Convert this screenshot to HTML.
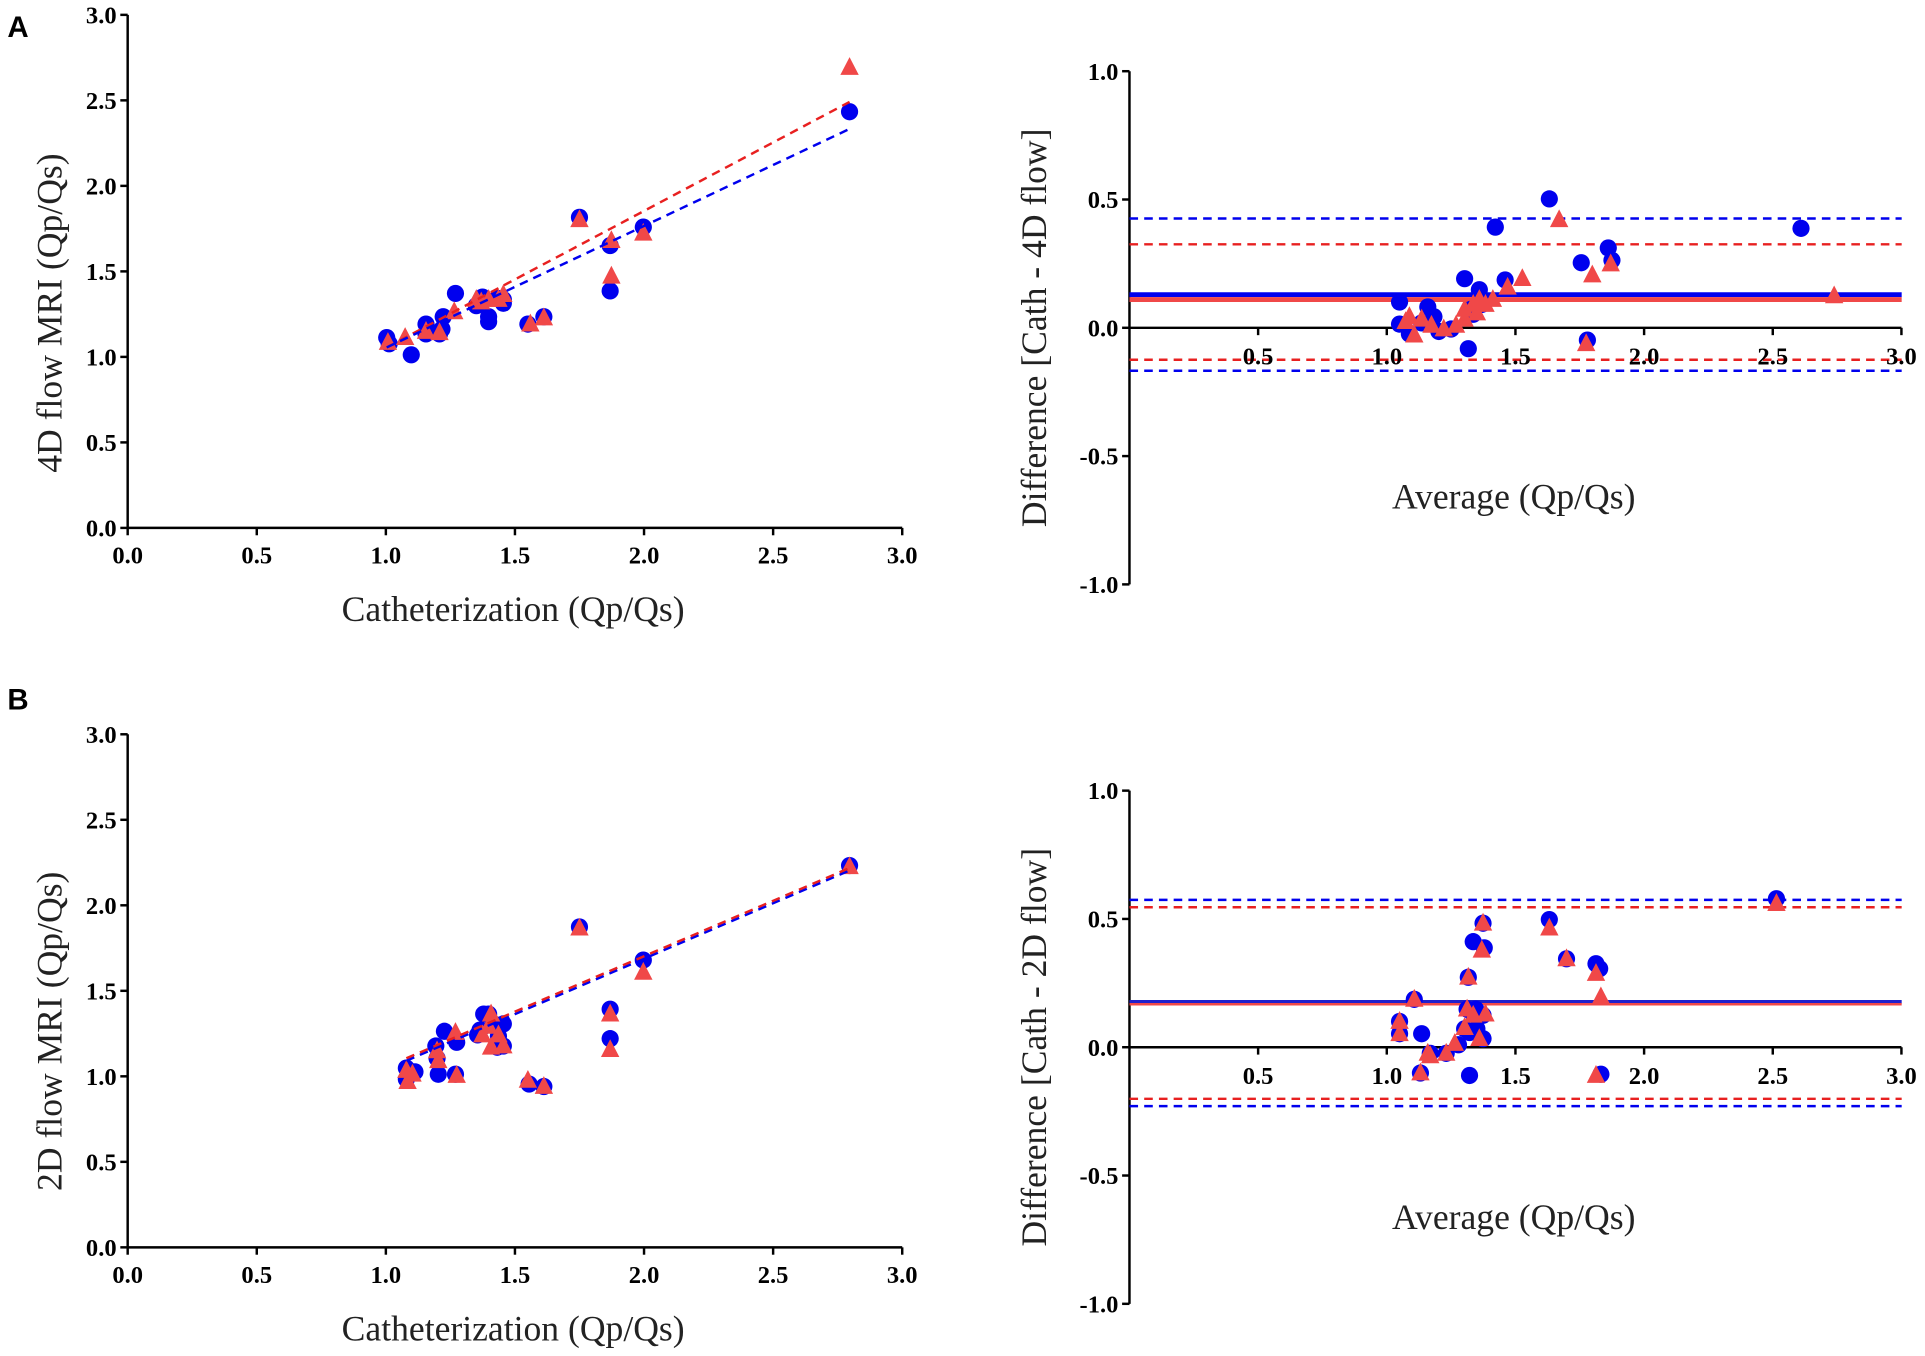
<!DOCTYPE html>
<html><head><meta charset="utf-8"><style>html,body{margin:0;padding:0;background:#fff}svg{display:block}</style></head>
<body>
<svg id="s" width="1925" height="1356" viewBox="0 0 1568 1104.5" preserveAspectRatio="none" xmlns="http://www.w3.org/2000/svg" font-family="Liberation Serif, serif">
<g font-family="Liberation Sans, sans-serif" font-weight="bold" font-size="24"><text x="6" y="30">A</text><text x="6" y="578">B</text></g>
<g font-size="29" fill="#222">
<text x="418" y="506" text-anchor="middle">Catheterization (Qp/Qs)</text>
<text x="418" y="1092" text-anchor="middle">Catheterization (Qp/Qs)</text>
<text x="1233" y="414" text-anchor="middle">Average (Qp/Qs)</text>
<text x="1233" y="1001" text-anchor="middle">Average (Qp/Qs)</text>
<text transform="translate(50,255) rotate(-90)" text-anchor="middle">4D flow MRI (Qp/Qs)</text>
<text transform="translate(50,840) rotate(-90)" text-anchor="middle">2D flow MRI (Qp/Qs)</text>
<text transform="translate(852,267) rotate(-90)" text-anchor="middle">Difference [Cath - 4D flow]</text>
<text transform="translate(852,853) rotate(-90)" text-anchor="middle">Difference [Cath - 2D flow]</text>
</g>
<g id="g"></g>
<g font-size="20" font-weight="bold" id="t"></g>
</svg>
<script>
var NS="http://www.w3.org/2000/svg",g=document.getElementById('g'),t=document.getElementById('t');
function el(p,tag,a,txt){var e=document.createElementNS(NS,tag);for(var k in a)e.setAttribute(k,a[k]);if(txt!==undefined)e.textContent=txt;p.appendChild(e);return e;}
function line(x1,y1,x2,y2,c,w,d){var a={x1:x1,y1:y1,x2:x2,y2:y2,stroke:c,'stroke-width':w};if(d)a['stroke-dasharray']=d;el(g,'line',a);}
function leftPanel(y0){
 var x0=104,xs=210.3,ys=139.3;
 line(x0,y0-3*ys,x0,y0,'#000',2);line(x0,y0,x0+3*xs,y0,'#000',2);
 for(var i=0;i<=6;i++){var v=i*0.5,x=x0+v*xs,y=y0-v*ys;
  line(x,y0,x,y0+6,'#000',2);line(x0-6,y,x0,y,'#000',2);
  el(t,'text',{x:x,y:y0+29,'text-anchor':'middle'},v.toFixed(1));
  el(t,'text',{x:x0-9,y:y+7,'text-anchor':'end'},v.toFixed(1));}
}
function rightPanel(yz){
 var x0=920,ys=209,xs=209.6;
 line(x0,yz-ys,x0,yz+ys,'#000',2);line(x0,yz,x0+3*xs,yz,'#000',2);
 for(var i=-2;i<=2;i++){var v=i*0.5,y=yz-v*ys;line(x0-6,y,x0,y,'#000',2);
  el(t,'text',{x:x0-9,y:y+7,'text-anchor':'end'},v.toFixed(1));}
 for(var i=1;i<=6;i++){var v=i*0.5,x=x0+v*xs;line(x,yz,x,yz+6,'#000',2);
  el(t,'text',{x:x,y:yz+30,'text-anchor':'middle'},v.toFixed(1));}
}
function hl(y,c,w,d){line(920,y,1549,y,c,w,d);}
function circ(P){P.forEach(function(p){el(g,'circle',{cx:p[0],cy:p[1],r:7,fill:'#0000ee'});});}
function tri(P){P.forEach(function(p){el(g,'polygon',{points:(p[0]-7.5)+','+(p[1]+6)+' '+(p[0]+7.5)+','+(p[1]+6)+' '+p[0]+','+(p[1]-8.5),fill:'#f04848'});});}
leftPanel(430);leftPanel(1016);rightPanel(267);rightPanel(853);
hl(240,'#0000ee',4);hl(244,'#f04848',4);hl(178,'#0000ee',2,'7,5');hl(199,'#e82020',2,'7,5');hl(293,'#e82020',2,'7,5');hl(302,'#0000ee',2,'7,5');
hl(816,'#2020cc',3);hl(818,'#f04848',2);hl(733,'#0000ee',2,'7,5');hl(739,'#e82020',2,'7,5');hl(895,'#e82020',2,'7,5');hl(901,'#0000ee',2,'7,5');
circ([[315,275],[317,280],[335,289],[347,264],[347,272],[358,272],[361,258],[371,239],[391,246],[393,242],[398,258],[398,262],[405,243],[410,247],[410,244],[430,264],[443,258],[472,177],[497,237],[497,200],[524,185],[692,91],[360,268],[388,249]]);
tri([[316,279],[347,270],[358,271],[370,254],[392,246],[398,244],[406,244],[410,240],[432,264],[443,259],[472,179],[498,225],[498,196],[524,190],[692,55],[330,275],[388,244]]);
line(315,283,692,83,'#e82020',2,'7,5');line(315,283,692,105,'#0000ee',2,'7,5');
circ([[1140,246],[1140,264],[1148,272],[1158,263],[1163,250],[1172,270],[1182,268],[1196,284],[1193,227],[1200,256],[1205,236],[1210,245],[1218,185],[1226,228],[1262,162],[1288,214],[1293,277],[1310,202],[1313,212],[1467,186],[1168,258],[1198,252],[1207,248]]);
tri([[1145,262],[1152,273],[1158,260],[1166,265],[1176,268],[1186,265],[1193,252],[1200,248],[1205,244],[1210,248],[1216,244],[1228,234],[1240,227],[1297,224],[1312,215],[1270,179],[1494,241],[1148,258],[1193,260],[1203,255],[1292,280]]);
circ([[331,879],[331,870],[338,873],[355,852],[356,862],[371,875],[362,840],[372,849],[391,839],[394,826],[398,826],[402,834],[406,844],[410,834],[405,853],[410,852],[431,883],[443,885],[472,755],[497,822],[497,846],[524,782],[692,705],[357,875],[389,843]]);
tri([[331,872],[332,881],[336,875],[356,856],[357,864],[372,876],[371,841],[393,843],[398,836],[400,826],[406,843],[410,852],[430,880],[443,885],[472,756],[497,826],[497,855],[524,792],[692,706],[400,853]]);
line(331,864,692,709,'#0000ee',2,'7,5');line(331,862,692,707,'#e82020',2,'7,5');
circ([[1140,832],[1140,842],[1157,874],[1158,842],[1152,814],[1165,858],[1178,858],[1188,851],[1193,838],[1195,822],[1196,796],[1197,841],[1200,767],[1202,822],[1203,838],[1208,827],[1208,752],[1209,772],[1262,749],[1303,789],[1304,875],[1276,781],[1300,785],[1200,826],[1208,846],[1197,876],[1447,732]]);
tri([[1140,842],[1140,832],[1152,814],[1157,874],[1163,858],[1178,858],[1185,850],[1193,837],[1195,822],[1196,796],[1200,827],[1205,846],[1207,774],[1208,752],[1210,826],[1262,756],[1276,781],[1300,793],[1304,812],[1300,876],[1447,736],[1165,860]]);
</script>
</body></html>
